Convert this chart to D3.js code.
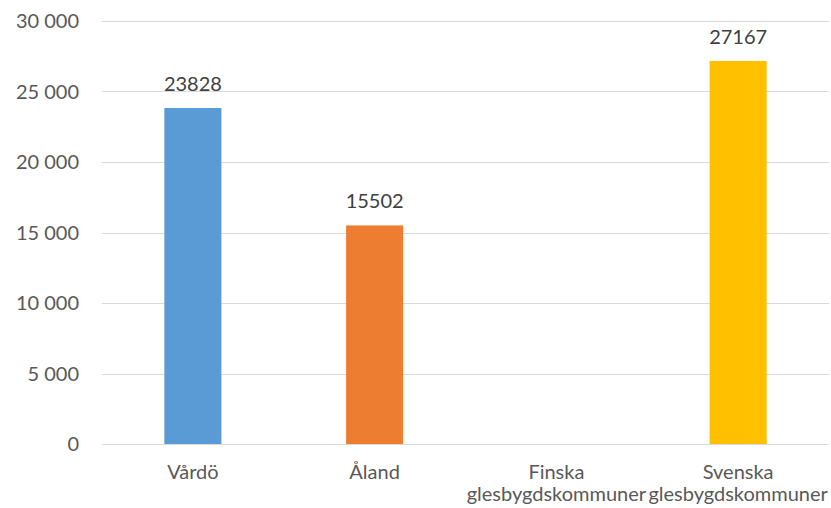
<!DOCTYPE html>
<html>
  <head>
    <script src="https://d3js.org/d3.v7.min.js"></script>
    <style>
      body { margin: 0; background: #fff; }
      text { font-family: Lato, "Open Sans", sans-serif; }
    </style>
  </head>
  <body>
    <div id="container"></div>

    <script type="text/javascript">
      // Data
      var categories = ["Vårdö", "Åland", "Finska glesbygdskommuner", "Svenska glesbygdskommuner"];
      var values = [23828, 15502, null, 27167];
      var colors = ["#5B9BD5", "#ED7D31", "#A5A5A5", "#FFC000"];
      var yTicks = [0, 5000, 10000, 15000, 20000, 25000, 30000];

      var width = 831,
          height = 508;
      var margin = { top: 21, right: 2, bottom: 64, left: 102 };

      var svg = d3.select("#container").append("svg")
        .attr("width", width)
        .attr("height", height);

      var x = d3.scaleBand()
        .domain(categories)
        .range([margin.left, width - margin.right]);

      var y = d3.scaleLinear()
        .domain([0, 30000])
        .range([height - margin.bottom, margin.top]);

      var barWidth = x.bandwidth() * 0.314;

      // gridlines
      svg.append("g")
        .selectAll("line")
        .data(yTicks)
        .enter().append("line")
          .attr("x1", margin.left)
          .attr("x2", width - margin.right)
          .attr("y1", function(d) { return Math.round(y(d)) + 0.5; })
          .attr("y2", function(d) { return Math.round(y(d)) + 0.5; })
          .attr("stroke", "#d9d9d9")
          .attr("stroke-width", 1);

      // y tick labels
      var fmt = function(d) { return d3.format(",")(d).replace(/,/g, " "); };
      svg.append("g")
        .selectAll("text")
        .data(yTicks)
        .enter().append("text")
          .attr("x", 79)
          .attr("y", function(d) { return y(d) + 7; })
          .attr("text-anchor", "end")
          .attr("fill", "#595959")
          .style("font-size", "20px")
          .text(fmt);

      var rows = categories.map(function(c, i) {
        return { cat: c, value: values[i], color: colors[i] };
      });

      // bars
      svg.append("g")
        .selectAll("rect")
        .data(rows.filter(function(d) { return d.value != null; }))
        .enter().append("rect")
          .attr("x", function(d) { return x(d.cat) + (x.bandwidth() - barWidth) / 2; })
          .attr("y", function(d) { return y(d.value); })
          .attr("width", barWidth)
          .attr("height", function(d) { return y(0) - y(d.value); })
          .attr("fill", function(d) { return d.color; });

      // value labels
      svg.append("g")
        .selectAll("text")
        .data(rows.filter(function(d) { return d.value != null; }))
        .enter().append("text")
          .attr("x", function(d) { return x(d.cat) + x.bandwidth() / 2; })
          .attr("y", function(d) { return y(d.value) - 17; })
          .attr("text-anchor", "middle")
          .attr("fill", "#404040")
          .style("font-size", "20px")
          .text(function(d) { return d.value; });

      // category labels, wrapped on the space
      var cat = svg.append("g")
        .selectAll("text")
        .data(categories)
        .enter().append("text")
          .attr("x", function(d) { return x(d) + x.bandwidth() / 2; })
          .attr("y", 479)
          .attr("text-anchor", "middle")
          .attr("fill", "#595959")
          .style("font-size", "20px");

      cat.each(function(d) {
        var words = d.split(" ");
        var t = d3.select(this);
        words.forEach(function(w, i) {
          t.append("tspan")
            .attr("x", t.attr("x"))
            .attr("dy", i === 0 ? 0 : 22)
            .text(w);
        });
      });
    </script>
  </body>
</html>
